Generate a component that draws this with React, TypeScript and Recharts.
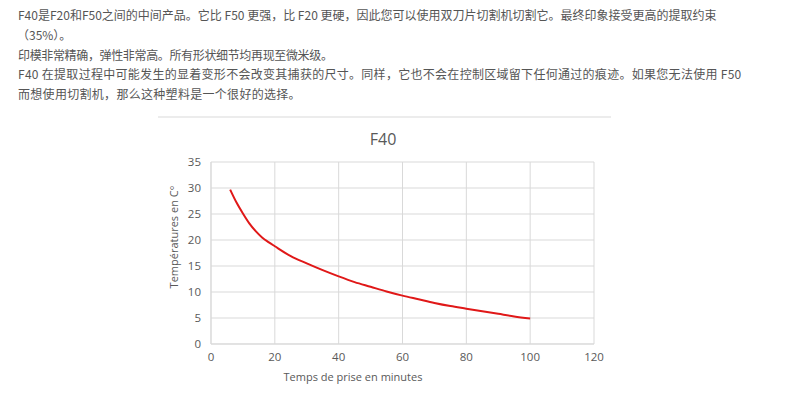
import React from "react";
import {
  LineChart,
  Line,
  XAxis,
  YAxis,
  CartesianGrid,
} from "recharts";

const paragraphLines: string[] = [
  "F40是F20和F50之间的中间产品。它比 F50 更强，比 F20 更硬，因此您可以使用双刀片切割机切割它。最终印象接受更高的提取约束",
  "（35%）。",
  "印模非常精确，弹性非常高。所有形状细节均再现至微米级。",
  "F40 在提取过程中可能发生的显着变形不会改变其捕获的尺寸。同样，它也不会在控制区域留下任何通过的痕迹。如果您无法使用 F50",
  "而想使用切割机，那么这种塑料是一个很好的选择。",
];

const chartTitle = "F40";
const xAxisTitle = "Temps de prise en minutes";
const yAxisTitle = "Températures en C°";

const minutes: number[] = [6, 8, 10, 12, 14, 16, 18, 20, 25, 30, 35, 40, 45, 50, 55, 60, 65, 70, 75, 80, 85, 90, 95, 100];
const temperatures: number[] = [29.7, 27.2, 25.1, 23.2, 21.7, 20.5, 19.6, 18.8, 16.9, 15.5, 14.2, 13.0, 11.9, 11.0, 10.1, 9.3, 8.6, 7.9, 7.3, 6.8, 6.3, 5.8, 5.3, 4.9];

const xTicks: number[] = [0, 20, 40, 60, 80, 100, 120];
const yTicks: number[] = [0, 5, 10, 15, 20, 25, 30, 35];

const data = minutes.map((m, i) => ({ x: m, y: temperatures[i] }));

const axisFont = "Open Sans, Noto Sans, sans-serif";
const gray = "#595959";

const lineLeft = [18, 17, 18, 18, 18];
const lineSpacing = [0, 0, -0.35, 0.29, 0.3];

export default function App() {
  return (
    <div
      style={{
        position: "absolute",
        left: 0,
        top: 0,
        width: 800,
        height: 399,
        background: "#ffffff",
        overflow: "hidden",
      }}
    >
      {paragraphLines.map((line, i) => (
        <div
          key={i}
          style={{
            position: "absolute",
            left: lineLeft[i],
            top: 5 + i * 19.8,
            whiteSpace: "nowrap",
            fontFamily: "'Noto Sans CJK SC', sans-serif",
            fontSize: 12,
            letterSpacing: lineSpacing[i],
            lineHeight: "20px",
            color: "#555555",
          }}
        >
          {line}
        </div>
      ))}
      <div
        style={{
          position: "absolute",
          left: 158,
          top: 116,
          width: 453,
          height: 2,
          background: "#ececec",
        }}
      />
      <div
        style={{
          position: "absolute",
          left: 283,
          width: 200,
          top: 127,
          textAlign: "center",
          fontFamily: axisFont,
          fontSize: 16,
          lineHeight: "24px",
          color: gray,
        }}
      >
        {chartTitle}
      </div>
      <div style={{ position: "absolute", left: 0, top: 0 }}>
        <LineChart
          width={800}
          height={399}
          data={data}
          margin={{ top: 162, right: 206, bottom: 0, left: 181 }}
        >
          <CartesianGrid stroke="#d9d9d9" strokeWidth={1} />
          <XAxis
            type="number"
            dataKey="x"
            domain={[0, 120]}
            ticks={xTicks}
            interval={0}
            height={55}
            tickSize={0}
            tickMargin={9}
            axisLine={{ stroke: "#d9d9d9" }}
            tickLine={false}
            tick={{ fill: gray, fontSize: 11.5, fontFamily: axisFont }}
          />
          <YAxis
            type="number"
            domain={[0, 35]}
            ticks={yTicks}
            interval={0}
            width={30}
            tickSize={0}
            tickMargin={10}
            axisLine={{ stroke: "#d9d9d9" }}
            tickLine={false}
            tick={{ fill: gray, fontSize: 11.5, fontFamily: axisFont }}
          />
          <Line
            type="monotone"
            dataKey="y"
            stroke="#e01818"
            strokeWidth={2}
            dot={false}
            isAnimationActive={false}
          />
        </LineChart>
      </div>
      <div
        style={{
          position: "absolute",
          left: 253,
          width: 200,
          top: 368,
          textAlign: "center",
          fontFamily: axisFont,
          fontSize: 11,
          lineHeight: "18px",
          color: gray,
        }}
      >
        {xAxisTitle}
      </div>
      <div
        style={{
          position: "absolute",
          left: 174 - 100,
          top: 237 - 9,
          width: 200,
          textAlign: "center",
          transform: "rotate(-90deg)",
          fontFamily: axisFont,
          fontSize: 11,
          lineHeight: "18px",
          color: gray,
        }}
      >
        {yAxisTitle}
      </div>
    </div>
  );
}
